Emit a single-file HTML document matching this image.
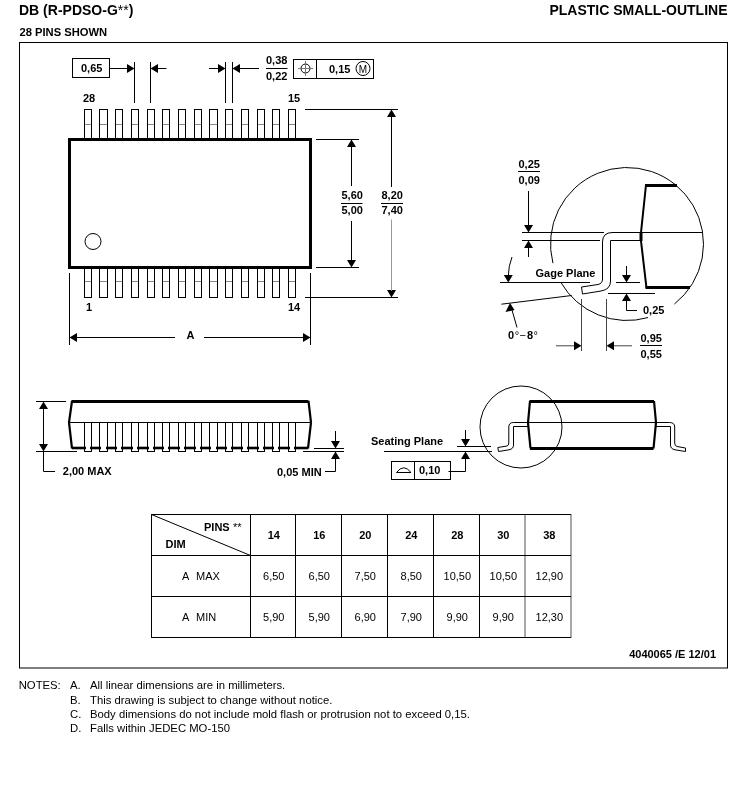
<!DOCTYPE html>
<html><head><meta charset="utf-8"><style>
html,body{margin:0;padding:0;background:#fff;}
body{width:747px;height:802px;overflow:hidden;}
svg{display:block;will-change:transform;}
text{font-family:"Liberation Sans",sans-serif;fill:#000;}
</style></head><body>
<svg width="747" height="802" viewBox="0 0 747 802">
<rect x="19.5" y="42.5" width="708" height="625.5" fill="none" stroke="#000" stroke-width="1"/>
<text x="19" y="15" font-size="14" font-weight="bold">DB (R-PDSO-G<tspan font-weight="normal">**</tspan>)</text>
<text x="727.5" y="15" font-size="14" font-weight="bold" text-anchor="end" >PLASTIC SMALL-OUTLINE</text>
<text x="19.5" y="36" font-size="11.2" font-weight="bold" text-anchor="start" >28 PINS SHOWN</text>
<rect x="72.5" y="58.5" width="37" height="19" fill="none" stroke="#000" stroke-width="1"/>
<text x="81" y="71.5" font-size="11" font-weight="bold" text-anchor="start" >0,65</text>
<line x1="110" y1="68.5" x2="128" y2="68.5" stroke="#000" stroke-width="1" />
<polygon points="134.5,68.5 127.0,64.0 127.0,73.0" fill="#000"/>
<line x1="134.5" y1="62" x2="134.5" y2="103" stroke="#000" stroke-width="1" />
<line x1="150.5" y1="62" x2="150.5" y2="103" stroke="#000" stroke-width="1" />
<polygon points="150.5,68.5 158.0,64.0 158.0,73.0" fill="#000"/>
<line x1="157" y1="68.5" x2="166.5" y2="68.5" stroke="#000" stroke-width="1" />
<line x1="209" y1="68.5" x2="219" y2="68.5" stroke="#000" stroke-width="1" />
<polygon points="225.5,68.5 218.0,64.0 218.0,73.0" fill="#000"/>
<line x1="225.5" y1="62" x2="225.5" y2="103" stroke="#000" stroke-width="1" />
<line x1="232.5" y1="62" x2="232.5" y2="103" stroke="#000" stroke-width="1" />
<polygon points="232.5,68.5 240.0,64.0 240.0,73.0" fill="#000"/>
<line x1="239" y1="68.5" x2="259" y2="68.5" stroke="#000" stroke-width="1" />
<text x="266" y="64" font-size="11" font-weight="bold" text-anchor="start" >0,38</text>
<line x1="266" y1="68.5" x2="287.5" y2="68.5" stroke="#000" stroke-width="1" />
<text x="266" y="79.5" font-size="11" font-weight="bold" text-anchor="start" >0,22</text>
<rect x="293.5" y="59.5" width="80" height="19" fill="none" stroke="#000" stroke-width="1"/>
<line x1="316.5" y1="59.5" x2="316.5" y2="78.5" stroke="#000" stroke-width="1" />
<circle cx="305.5" cy="68.5" r="4.5" fill="none" stroke="#000" stroke-width="1"/>
<line x1="298" y1="68.5" x2="313" y2="68.5" stroke="#777" stroke-width="1" />
<line x1="305.5" y1="61" x2="305.5" y2="76" stroke="#777" stroke-width="1" />
<text x="329" y="72.5" font-size="11" font-weight="bold" text-anchor="start" >0,15</text>
<circle cx="363" cy="68.5" r="7" fill="none" stroke="#000" stroke-width="1"/>
<text x="363" y="72.5" font-size="10" font-weight="normal" text-anchor="middle" >M</text>
<text x="83" y="102" font-size="11" font-weight="bold" text-anchor="start" >28</text>
<text x="288" y="102" font-size="11" font-weight="bold" text-anchor="start" >15</text>
<rect x="84.5" y="109.5" width="7" height="29" fill="none" stroke="#000" stroke-width="1"/>
<line x1="85" y1="124.5" x2="91" y2="124.5" stroke="#888" stroke-width="1" />
<rect x="99.5" y="109.5" width="8" height="29" fill="none" stroke="#000" stroke-width="1"/>
<line x1="100" y1="124.5" x2="107" y2="124.5" stroke="#888" stroke-width="1" />
<rect x="115.5" y="109.5" width="7" height="29" fill="none" stroke="#000" stroke-width="1"/>
<line x1="116" y1="124.5" x2="122" y2="124.5" stroke="#888" stroke-width="1" />
<rect x="131.5" y="109.5" width="7" height="29" fill="none" stroke="#000" stroke-width="1"/>
<line x1="132" y1="124.5" x2="138" y2="124.5" stroke="#888" stroke-width="1" />
<rect x="147.5" y="109.5" width="7" height="29" fill="none" stroke="#000" stroke-width="1"/>
<line x1="148" y1="124.5" x2="154" y2="124.5" stroke="#888" stroke-width="1" />
<rect x="162.5" y="109.5" width="7" height="29" fill="none" stroke="#000" stroke-width="1"/>
<line x1="163" y1="124.5" x2="169" y2="124.5" stroke="#888" stroke-width="1" />
<rect x="178.5" y="109.5" width="7" height="29" fill="none" stroke="#000" stroke-width="1"/>
<line x1="179" y1="124.5" x2="185" y2="124.5" stroke="#888" stroke-width="1" />
<rect x="194.5" y="109.5" width="7" height="29" fill="none" stroke="#000" stroke-width="1"/>
<line x1="195" y1="124.5" x2="201" y2="124.5" stroke="#888" stroke-width="1" />
<rect x="209.5" y="109.5" width="8" height="29" fill="none" stroke="#000" stroke-width="1"/>
<line x1="210" y1="124.5" x2="217" y2="124.5" stroke="#888" stroke-width="1" />
<rect x="225.5" y="109.5" width="7" height="29" fill="none" stroke="#000" stroke-width="1"/>
<line x1="226" y1="124.5" x2="232" y2="124.5" stroke="#888" stroke-width="1" />
<rect x="241.5" y="109.5" width="7" height="29" fill="none" stroke="#000" stroke-width="1"/>
<line x1="242" y1="124.5" x2="248" y2="124.5" stroke="#888" stroke-width="1" />
<rect x="257.5" y="109.5" width="7" height="29" fill="none" stroke="#000" stroke-width="1"/>
<line x1="258" y1="124.5" x2="264" y2="124.5" stroke="#888" stroke-width="1" />
<rect x="272.5" y="109.5" width="7" height="29" fill="none" stroke="#000" stroke-width="1"/>
<line x1="273" y1="124.5" x2="279" y2="124.5" stroke="#888" stroke-width="1" />
<rect x="288.5" y="109.5" width="7" height="29" fill="none" stroke="#000" stroke-width="1"/>
<line x1="289" y1="124.5" x2="295" y2="124.5" stroke="#888" stroke-width="1" />
<rect x="69.5" y="139.5" width="241" height="128" fill="none" stroke="#000" stroke-width="3"/>
<circle cx="93" cy="241.5" r="8" fill="none" stroke="#000" stroke-width="1"/>
<rect x="84.5" y="268" width="7" height="29.5" fill="none" stroke="#000" stroke-width="1"/>
<line x1="85" y1="281.5" x2="91" y2="281.5" stroke="#888" stroke-width="1" />
<rect x="99.5" y="268" width="8" height="29.5" fill="none" stroke="#000" stroke-width="1"/>
<line x1="100" y1="281.5" x2="107" y2="281.5" stroke="#888" stroke-width="1" />
<rect x="115.5" y="268" width="7" height="29.5" fill="none" stroke="#000" stroke-width="1"/>
<line x1="116" y1="281.5" x2="122" y2="281.5" stroke="#888" stroke-width="1" />
<rect x="131.5" y="268" width="7" height="29.5" fill="none" stroke="#000" stroke-width="1"/>
<line x1="132" y1="281.5" x2="138" y2="281.5" stroke="#888" stroke-width="1" />
<rect x="147.5" y="268" width="7" height="29.5" fill="none" stroke="#000" stroke-width="1"/>
<line x1="148" y1="281.5" x2="154" y2="281.5" stroke="#888" stroke-width="1" />
<rect x="162.5" y="268" width="7" height="29.5" fill="none" stroke="#000" stroke-width="1"/>
<line x1="163" y1="281.5" x2="169" y2="281.5" stroke="#888" stroke-width="1" />
<rect x="178.5" y="268" width="7" height="29.5" fill="none" stroke="#000" stroke-width="1"/>
<line x1="179" y1="281.5" x2="185" y2="281.5" stroke="#888" stroke-width="1" />
<rect x="194.5" y="268" width="7" height="29.5" fill="none" stroke="#000" stroke-width="1"/>
<line x1="195" y1="281.5" x2="201" y2="281.5" stroke="#888" stroke-width="1" />
<rect x="209.5" y="268" width="8" height="29.5" fill="none" stroke="#000" stroke-width="1"/>
<line x1="210" y1="281.5" x2="217" y2="281.5" stroke="#888" stroke-width="1" />
<rect x="225.5" y="268" width="7" height="29.5" fill="none" stroke="#000" stroke-width="1"/>
<line x1="226" y1="281.5" x2="232" y2="281.5" stroke="#888" stroke-width="1" />
<rect x="241.5" y="268" width="7" height="29.5" fill="none" stroke="#000" stroke-width="1"/>
<line x1="242" y1="281.5" x2="248" y2="281.5" stroke="#888" stroke-width="1" />
<rect x="257.5" y="268" width="7" height="29.5" fill="none" stroke="#000" stroke-width="1"/>
<line x1="258" y1="281.5" x2="264" y2="281.5" stroke="#888" stroke-width="1" />
<rect x="272.5" y="268" width="7" height="29.5" fill="none" stroke="#000" stroke-width="1"/>
<line x1="273" y1="281.5" x2="279" y2="281.5" stroke="#888" stroke-width="1" />
<rect x="288.5" y="268" width="7" height="29.5" fill="none" stroke="#000" stroke-width="1"/>
<line x1="289" y1="281.5" x2="295" y2="281.5" stroke="#888" stroke-width="1" />
<text x="86" y="311" font-size="11" font-weight="bold" text-anchor="start" >1</text>
<text x="288" y="311" font-size="11" font-weight="bold" text-anchor="start" >14</text>
<line x1="69.5" y1="273" x2="69.5" y2="345" stroke="#000" stroke-width="1" />
<line x1="310.5" y1="273" x2="310.5" y2="345" stroke="#000" stroke-width="1" />
<line x1="76" y1="337.5" x2="175" y2="337.5" stroke="#000" stroke-width="1" />
<polygon points="69.5,337.5 77.0,333.0 77.0,342.0" fill="#000"/>
<line x1="204" y1="337.5" x2="304" y2="337.5" stroke="#000" stroke-width="1" />
<polygon points="310.5,337.5 303.0,333.0 303.0,342.0" fill="#000"/>
<text x="190.5" y="339" font-size="11" font-weight="bold" text-anchor="middle" >A</text>
<line x1="316" y1="139.5" x2="359" y2="139.5" stroke="#000" stroke-width="1" />
<line x1="316" y1="267.5" x2="359" y2="267.5" stroke="#000" stroke-width="1" />
<polygon points="351.5,139.5 347.0,147.0 356.0,147.0" fill="#000"/>
<line x1="351.5" y1="146" x2="351.5" y2="186" stroke="#000" stroke-width="1" />
<polygon points="351.5,267.5 347.0,260.0 356.0,260.0" fill="#000"/>
<line x1="351.5" y1="221" x2="351.5" y2="261" stroke="#000" stroke-width="1" />
<text x="341.5" y="199" font-size="11" font-weight="bold" text-anchor="start" >5,60</text>
<line x1="341" y1="203.5" x2="362.5" y2="203.5" stroke="#000" stroke-width="1" />
<text x="341.5" y="214" font-size="11" font-weight="bold" text-anchor="start" >5,00</text>
<line x1="305" y1="109.5" x2="398" y2="109.5" stroke="#000" stroke-width="1" />
<line x1="305" y1="297.5" x2="398" y2="297.5" stroke="#000" stroke-width="1" />
<polygon points="391.5,109.5 387.0,117.0 396.0,117.0" fill="#000"/>
<line x1="391.5" y1="116" x2="391.5" y2="187" stroke="#000" stroke-width="1" />
<polygon points="391.5,297.5 387.0,290.0 396.0,290.0" fill="#000"/>
<line x1="391.5" y1="219.5" x2="391.5" y2="291" stroke="#999" stroke-width="1" />
<text x="381.5" y="199" font-size="11" font-weight="bold" text-anchor="start" >8,20</text>
<line x1="381" y1="203.5" x2="403" y2="203.5" stroke="#000" stroke-width="1" />
<text x="381.5" y="214" font-size="11" font-weight="bold" text-anchor="start" >7,40</text>
<path d="M648.09,317.54 A76.5,76.5 0 0 1 560.75,282.25" fill="none" stroke="#000" stroke-width="1" />
<path d="M552.94,263.15 A76.5,76.5 0 1 1 674.41,304.04" fill="none" stroke="#000" stroke-width="1" />
<line x1="645" y1="185.5" x2="677" y2="185.5" stroke="#000" stroke-width="3" />
<line x1="645.5" y1="287.5" x2="690" y2="287.5" stroke="#000" stroke-width="3" />
<path d="M646,185 L641,232.5 L641,241 L646.5,288" fill="none" stroke="#000" stroke-width="2" />
<line x1="641" y1="232" x2="641" y2="241" stroke="#000" stroke-width="3" />
<line x1="612" y1="232.5" x2="703" y2="232.5" stroke="#000" stroke-width="1" />
<path d="M641,240.5 L610.5,240.5 L610.5,281 Q610.5,289.5 601,291 L582.5,294 L581.5,287 L598,284.5 Q602.5,283.5 602.5,279 L602.5,242 Q602.5,232.5 612.5,232.5" fill="none" stroke="#000" stroke-width="1" />
<line x1="522" y1="232.5" x2="604" y2="232.5" stroke="#000" stroke-width="1" />
<line x1="522" y1="240.5" x2="600" y2="240.5" stroke="#000" stroke-width="1" />
<line x1="528.5" y1="191" x2="528.5" y2="226" stroke="#000" stroke-width="1" />
<polygon points="528.5,232.5 524.0,225.0 533.0,225.0" fill="#000"/>
<polygon points="528.5,240.5 524.0,248.0 533.0,248.0" fill="#000"/>
<line x1="528.5" y1="246" x2="528.5" y2="257" stroke="#000" stroke-width="1" />
<text x="518.5" y="168" font-size="11" font-weight="bold" text-anchor="start" >0,25</text>
<line x1="518" y1="171.5" x2="540" y2="171.5" stroke="#000" stroke-width="1" />
<text x="518.5" y="183.5" font-size="11" font-weight="bold" text-anchor="start" >0,09</text>
<line x1="500" y1="282.5" x2="590" y2="282.5" stroke="#000" stroke-width="1" />
<path d="M512,257 Q508.5,266 508.3,276" fill="none" stroke="#000" stroke-width="1" />
<polygon points="508.3,282.5 503.8,275.0 512.8,275.0" fill="#000"/>
<line x1="501.4" y1="304.2" x2="571.7" y2="295.5" stroke="#000" stroke-width="1" />
<line x1="517" y1="327.5" x2="512" y2="310" stroke="#000" stroke-width="1" />
<polygon points="510,303 505.5,312 514.5,310" fill="#000"/>
<text x="535.5" y="277" font-size="11" font-weight="bold" text-anchor="start" >Gage Plane</text>
<text x="508" y="339" font-size="11" font-weight="bold">0<tspan font-weight="normal" dx="0.5">°</tspan><tspan font-weight="normal" dx="0.5">−</tspan><tspan dx="1">8</tspan><tspan font-weight="normal" dx="0.5">°</tspan></text>
<line x1="616" y1="282.5" x2="640" y2="282.5" stroke="#000" stroke-width="1" />
<line x1="626.5" y1="266" x2="626.5" y2="276" stroke="#000" stroke-width="1" />
<polygon points="626.5,282.5 622.0,275.0 631.0,275.0" fill="#000"/>
<line x1="608" y1="293.5" x2="655" y2="293.5" stroke="#000" stroke-width="1" />
<polygon points="626.5,293.5 622.0,301.0 631.0,301.0" fill="#000"/>
<line x1="626.5" y1="300" x2="626.5" y2="310.5" stroke="#000" stroke-width="1" />
<line x1="626.5" y1="310.5" x2="637" y2="310.5" stroke="#000" stroke-width="1" />
<text x="643" y="314" font-size="11" font-weight="bold" text-anchor="start" >0,25</text>
<line x1="581.5" y1="299" x2="581.5" y2="351" stroke="#444" stroke-width="1" />
<line x1="606.5" y1="299" x2="606.5" y2="351" stroke="#444" stroke-width="1" />
<line x1="556" y1="345.8" x2="575" y2="345.8" stroke="#444" stroke-width="1" />
<polygon points="581.5,345.8 574.0,341.3 574.0,350.3" fill="#000"/>
<line x1="613" y1="345.8" x2="632" y2="345.8" stroke="#444" stroke-width="1" />
<polygon points="606.5,345.8 614.0,341.3 614.0,350.3" fill="#000"/>
<text x="640.5" y="342" font-size="11" font-weight="bold" text-anchor="start" >0,95</text>
<line x1="640" y1="345.5" x2="662" y2="345.5" stroke="#000" stroke-width="1" />
<text x="640.5" y="358" font-size="11" font-weight="bold" text-anchor="start" >0,55</text>
<line x1="71.5" y1="401.5" x2="308.5" y2="401.5" stroke="#000" stroke-width="3" />
<path d="M72,401 L69,422.5 L72,448.5" fill="none" stroke="#000" stroke-width="2.2" />
<path d="M308.5,401 L311,422.5 L308,448.5" fill="none" stroke="#000" stroke-width="2.2" />
<line x1="69" y1="422.5" x2="311" y2="422.5" stroke="#000" stroke-width="1" />
<rect x="84.5" y="422.5" width="7" height="29" fill="#fff" stroke="#000" stroke-width="1"/>
<rect x="99.5" y="422.5" width="8" height="29" fill="#fff" stroke="#000" stroke-width="1"/>
<rect x="115.5" y="422.5" width="7" height="29" fill="#fff" stroke="#000" stroke-width="1"/>
<rect x="131.5" y="422.5" width="7" height="29" fill="#fff" stroke="#000" stroke-width="1"/>
<rect x="147.5" y="422.5" width="7" height="29" fill="#fff" stroke="#000" stroke-width="1"/>
<rect x="162.5" y="422.5" width="7" height="29" fill="#fff" stroke="#000" stroke-width="1"/>
<rect x="178.5" y="422.5" width="7" height="29" fill="#fff" stroke="#000" stroke-width="1"/>
<rect x="194.5" y="422.5" width="7" height="29" fill="#fff" stroke="#000" stroke-width="1"/>
<rect x="209.5" y="422.5" width="8" height="29" fill="#fff" stroke="#000" stroke-width="1"/>
<rect x="225.5" y="422.5" width="7" height="29" fill="#fff" stroke="#000" stroke-width="1"/>
<rect x="241.5" y="422.5" width="7" height="29" fill="#fff" stroke="#000" stroke-width="1"/>
<rect x="257.5" y="422.5" width="7" height="29" fill="#fff" stroke="#000" stroke-width="1"/>
<rect x="272.5" y="422.5" width="7" height="29" fill="#fff" stroke="#000" stroke-width="1"/>
<rect x="288.5" y="422.5" width="7" height="29" fill="#fff" stroke="#000" stroke-width="1"/>
<line x1="72" y1="448" x2="86" y2="448" stroke="#000" stroke-width="2.6" />
<line x1="90" y1="448" x2="101" y2="448" stroke="#000" stroke-width="2.6" />
<line x1="106" y1="448" x2="117" y2="448" stroke="#000" stroke-width="2.6" />
<line x1="121" y1="448" x2="133" y2="448" stroke="#000" stroke-width="2.6" />
<line x1="137" y1="448" x2="149" y2="448" stroke="#000" stroke-width="2.6" />
<line x1="153" y1="448" x2="164" y2="448" stroke="#000" stroke-width="2.6" />
<line x1="168" y1="448" x2="180" y2="448" stroke="#000" stroke-width="2.6" />
<line x1="184" y1="448" x2="196" y2="448" stroke="#000" stroke-width="2.6" />
<line x1="200" y1="448" x2="211" y2="448" stroke="#000" stroke-width="2.6" />
<line x1="216" y1="448" x2="227" y2="448" stroke="#000" stroke-width="2.6" />
<line x1="231" y1="448" x2="243" y2="448" stroke="#000" stroke-width="2.6" />
<line x1="247" y1="448" x2="259" y2="448" stroke="#000" stroke-width="2.6" />
<line x1="263" y1="448" x2="274" y2="448" stroke="#000" stroke-width="2.6" />
<line x1="278" y1="448" x2="290" y2="448" stroke="#000" stroke-width="2.6" />
<line x1="294" y1="448" x2="308" y2="448" stroke="#000" stroke-width="2.6" />
<line x1="36" y1="401.5" x2="66" y2="401.5" stroke="#000" stroke-width="1" />
<line x1="36" y1="451.5" x2="77" y2="451.5" stroke="#000" stroke-width="1" />
<polygon points="43.5,401.5 39.0,409.0 48.0,409.0" fill="#000"/>
<polygon points="43.5,451.5 39.0,444.0 48.0,444.0" fill="#000"/>
<line x1="43.5" y1="408" x2="43.5" y2="445" stroke="#000" stroke-width="1" />
<path d="M43.5,451.5 L43.5,471.5 L55,471.5" fill="none" stroke="#000" stroke-width="1" />
<text x="62.8" y="475" font-size="11" font-weight="bold" text-anchor="start" >2,00 MAX</text>
<line x1="314" y1="448.5" x2="344" y2="448.5" stroke="#000" stroke-width="1" />
<line x1="303" y1="451.5" x2="344" y2="451.5" stroke="#000" stroke-width="1" />
<line x1="335.5" y1="431" x2="335.5" y2="442" stroke="#000" stroke-width="1" />
<polygon points="335.5,448.5 331.0,441.0 340.0,441.0" fill="#000"/>
<polygon points="335.5,451.5 331.0,459.0 340.0,459.0" fill="#000"/>
<path d="M335.5,457 L335.5,471.5 L325,471.5" fill="none" stroke="#000" stroke-width="1" />
<text x="277" y="476" font-size="11" font-weight="bold" text-anchor="start" >0,05 MIN</text>
<circle cx="521" cy="427" r="41" fill="none" stroke="#000" stroke-width="1"/>
<line x1="529.5" y1="401.5" x2="654" y2="401.5" stroke="#000" stroke-width="3" />
<line x1="530" y1="448.5" x2="653.5" y2="448.5" stroke="#000" stroke-width="3" />
<path d="M530,401 L528,422.8 L530.5,448.5" fill="none" stroke="#000" stroke-width="2.2" />
<path d="M654,401 L656,422.5 L653.5,448.5" fill="none" stroke="#000" stroke-width="2.2" />
<line x1="513.5" y1="422.5" x2="669.5" y2="422.5" stroke="#000" stroke-width="1" />
<path d="M528,426.5 L513.5,426.5 L513.5,445 Q513.5,449 509,449.8 L498.5,451.5 L497.8,447.5 L507,446 Q508.8,445.5 508.8,443 L508.8,427 Q508.8,422.5 513.5,422.5" fill="none" stroke="#000" stroke-width="1" />
<path d="M656,426.5 L670.5,426.5 L670.5,445 Q670.5,449 675,449.8 L685.5,451.5 L685.5,448 L677,446.5 Q674.7,446 674.7,443 L674.7,427 Q674.7,422.5 669.5,422.5" fill="none" stroke="#000" stroke-width="1" />
<line x1="457" y1="446.5" x2="491" y2="446.5" stroke="#000" stroke-width="1" />
<line x1="384" y1="451.5" x2="492" y2="451.5" stroke="#000" stroke-width="1" />
<line x1="465.5" y1="430" x2="465.5" y2="440" stroke="#000" stroke-width="1" />
<polygon points="465.5,446.5 461.0,439.0 470.0,439.0" fill="#000"/>
<polygon points="465.5,451.5 461.0,459.0 470.0,459.0" fill="#000"/>
<path d="M465.5,458 L465.5,471.5 L448.5,471.5" fill="none" stroke="#000" stroke-width="1" />
<text x="371" y="445" font-size="11" font-weight="bold" text-anchor="start" >Seating Plane</text>
<rect x="391.5" y="461.5" width="59" height="18" fill="none" stroke="#000" stroke-width="1"/>
<line x1="414.5" y1="461.5" x2="414.5" y2="479.5" stroke="#000" stroke-width="1" />
<path d="M396.5,472.5 Q403.7,463 411,472.5 Z" fill="none" stroke="#000" stroke-width="1" />
<text x="419" y="474" font-size="11" font-weight="bold" text-anchor="start" >0,10</text>
<line x1="151.5" y1="514" x2="151.5" y2="638" stroke="#000" stroke-width="1" />
<line x1="250.5" y1="514" x2="250.5" y2="638" stroke="#000" stroke-width="1" />
<line x1="295.5" y1="514" x2="295.5" y2="638" stroke="#000" stroke-width="1" />
<line x1="341.5" y1="514" x2="341.5" y2="638" stroke="#000" stroke-width="1" />
<line x1="387.5" y1="514" x2="387.5" y2="638" stroke="#000" stroke-width="1" />
<line x1="433.5" y1="514" x2="433.5" y2="638" stroke="#000" stroke-width="1" />
<line x1="479.5" y1="514" x2="479.5" y2="638" stroke="#000" stroke-width="1" />
<line x1="525.0" y1="514" x2="525.0" y2="638" stroke="#a8a8a8" stroke-width="2" />
<line x1="571.0" y1="514" x2="571.0" y2="638" stroke="#a8a8a8" stroke-width="2" />
<line x1="151" y1="514.5" x2="571" y2="514.5" stroke="#000" stroke-width="1" />
<line x1="151" y1="555.5" x2="571" y2="555.5" stroke="#000" stroke-width="1" />
<line x1="151" y1="596.5" x2="571" y2="596.5" stroke="#000" stroke-width="1" />
<line x1="151" y1="637.5" x2="571" y2="637.5" stroke="#000" stroke-width="1" />
<line x1="151.5" y1="514.5" x2="250.5" y2="555.5" stroke="#000" stroke-width="1" />
<text x="204" y="531" font-size="11" font-weight="bold" text-anchor="start" >PINS</text>
<text x="233" y="531" font-size="11" font-weight="normal" text-anchor="start" >**</text>
<text x="165.5" y="548" font-size="11" font-weight="bold" text-anchor="start" >DIM</text>
<text x="182" y="580" font-size="11" font-weight="normal" text-anchor="start" >A</text>
<text x="196" y="580" font-size="11" font-weight="normal" text-anchor="start" >MAX</text>
<text x="182" y="621" font-size="11" font-weight="normal" text-anchor="start" >A</text>
<text x="196" y="621" font-size="11" font-weight="normal" text-anchor="start" >MIN</text>
<text x="273.8" y="539" font-size="11" font-weight="bold" text-anchor="middle" >14</text>
<text x="273.8" y="580" font-size="11" font-weight="normal" text-anchor="middle" >6,50</text>
<text x="273.8" y="621" font-size="11" font-weight="normal" text-anchor="middle" >5,90</text>
<text x="319.3" y="539" font-size="11" font-weight="bold" text-anchor="middle" >16</text>
<text x="319.3" y="580" font-size="11" font-weight="normal" text-anchor="middle" >6,50</text>
<text x="319.3" y="621" font-size="11" font-weight="normal" text-anchor="middle" >5,90</text>
<text x="365.3" y="539" font-size="11" font-weight="bold" text-anchor="middle" >20</text>
<text x="365.3" y="580" font-size="11" font-weight="normal" text-anchor="middle" >7,50</text>
<text x="365.3" y="621" font-size="11" font-weight="normal" text-anchor="middle" >6,90</text>
<text x="411.3" y="539" font-size="11" font-weight="bold" text-anchor="middle" >24</text>
<text x="411.3" y="580" font-size="11" font-weight="normal" text-anchor="middle" >8,50</text>
<text x="411.3" y="621" font-size="11" font-weight="normal" text-anchor="middle" >7,90</text>
<text x="457.3" y="539" font-size="11" font-weight="bold" text-anchor="middle" >28</text>
<text x="457.3" y="580" font-size="11" font-weight="normal" text-anchor="middle" >10,50</text>
<text x="457.3" y="621" font-size="11" font-weight="normal" text-anchor="middle" >9,90</text>
<text x="503.3" y="539" font-size="11" font-weight="bold" text-anchor="middle" >30</text>
<text x="503.3" y="580" font-size="11" font-weight="normal" text-anchor="middle" >10,50</text>
<text x="503.3" y="621" font-size="11" font-weight="normal" text-anchor="middle" >9,90</text>
<text x="549.3" y="539" font-size="11" font-weight="bold" text-anchor="middle" >38</text>
<text x="549.3" y="580" font-size="11" font-weight="normal" text-anchor="middle" >12,90</text>
<text x="549.3" y="621" font-size="11" font-weight="normal" text-anchor="middle" >12,30</text>
<text x="716" y="658" font-size="11" font-weight="bold" text-anchor="end" >4040065 /E 12/01</text>
<text x="18.7" y="689" font-size="11.3" font-weight="normal" text-anchor="start" >NOTES:</text>
<text x="70" y="689" font-size="11.3" font-weight="normal" text-anchor="start" >A.</text>
<text x="90" y="689" font-size="11.3" font-weight="normal" text-anchor="start" >All linear dimensions are in millimeters.</text>
<text x="70" y="704.2" font-size="11.3" font-weight="normal" text-anchor="start" >B.</text>
<text x="90" y="704.2" font-size="11.3" font-weight="normal" text-anchor="start" >This drawing is subject to change without notice.</text>
<text x="70" y="717.8" font-size="11.3" font-weight="normal" text-anchor="start" >C.</text>
<text x="90" y="717.8" font-size="11.3" font-weight="normal" text-anchor="start" >Body dimensions do not include mold flash or protrusion not to exceed 0,15.</text>
<text x="70" y="732.2" font-size="11.3" font-weight="normal" text-anchor="start" >D.</text>
<text x="90" y="732.2" font-size="11.3" font-weight="normal" text-anchor="start" >Falls within JEDEC MO-150</text>
</svg>
</body></html>
